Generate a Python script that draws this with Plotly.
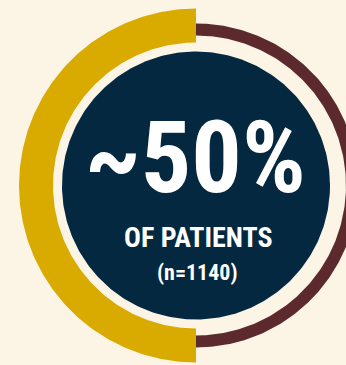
import numpy as np
import plotly.graph_objects as go

# Share of patients (gold arc) versus the remainder (maroon arc), in percent
segments = ["Patients", "Remainder"]
shares = [50, 50]

headline = "~50%"
subtitle = "OF PATIENTS"
sample_note = "(n=1140)"

W, H = 346, 365
CREAM = "#fcf5e6"
GOLD = "#d9aa00"
MAROON = "#5c2a2d"
NAVY = "#03283f"

cx, cy = 196, 185.5
ring_style = {
    "Patients": dict(r_in=143, r_out=177, color=GOLD),
    "Remainder": dict(r_in=150, r_out=162, color=MAROON),
}
disk_r = 134


def arc_polygon(t0, t1, r_in, r_out, n=240):
    t = np.radians(np.linspace(t0, t1, n))
    xo, yo = cx + r_out * np.cos(t), cy - r_out * np.sin(t)
    xi, yi = cx + r_in * np.cos(t[::-1]), cy - r_in * np.sin(t[::-1])
    xs = np.concatenate([xo, xi, xo[:1]])
    ys = np.concatenate([yo, yi, yo[:1]])
    return xs, ys


fig = go.Figure()

# Arcs start at 12 o'clock and run counter-clockwise, sized by share
start = 90.0
total = sum(shares)
for name, val in zip(segments, shares):
    sweep = val / total * 360.0
    st = ring_style[name]
    xs, ys = arc_polygon(start, start + sweep, st["r_in"], st["r_out"])
    fig.add_trace(go.Scatter(x=xs, y=ys, mode="lines", fill="toself",
                             fillcolor=st["color"], line=dict(width=0),
                             hoverinfo="skip", name=name, showlegend=False))
    start += sweep

# Central navy disk
t = np.radians(np.linspace(0, 360, 361))
fig.add_trace(go.Scatter(x=cx + disk_r * np.cos(t), y=cy - disk_r * np.sin(t),
                         mode="lines", fill="toself", fillcolor=NAVY,
                         line=dict(width=0), hoverinfo="skip", showlegend=False))

NARROW = "Liberation Sans Narrow, Roboto Condensed, DejaVu Sans Condensed, sans-serif"
fig.add_annotation(x=195, y=157, text=headline, showarrow=False,
                   font=dict(family=NARROW, size=100, color="white", weight="bold"),
                   xanchor="center", yanchor="middle")
fig.add_annotation(x=198, y=237, text=subtitle, showarrow=False,
                   font=dict(family=NARROW, size=28, color="white", weight="bold"),
                   xanchor="center", yanchor="middle")
fig.add_annotation(x=197, y=272, text=sample_note, showarrow=False,
                   font=dict(family=NARROW, size=22, color="white", weight="bold"),
                   xanchor="center", yanchor="middle")

fig.update_layout(
    width=W, height=H, margin=dict(l=0, r=0, t=0, b=0, pad=0),
    paper_bgcolor=CREAM, plot_bgcolor=CREAM,
    xaxis=dict(range=[0, W], visible=False, fixedrange=True),
    yaxis=dict(range=[H, 0], visible=False, fixedrange=True),
    showlegend=False,
)

fig.write_html("out.html", config={"displayModeBar": False, "staticPlot": True})
